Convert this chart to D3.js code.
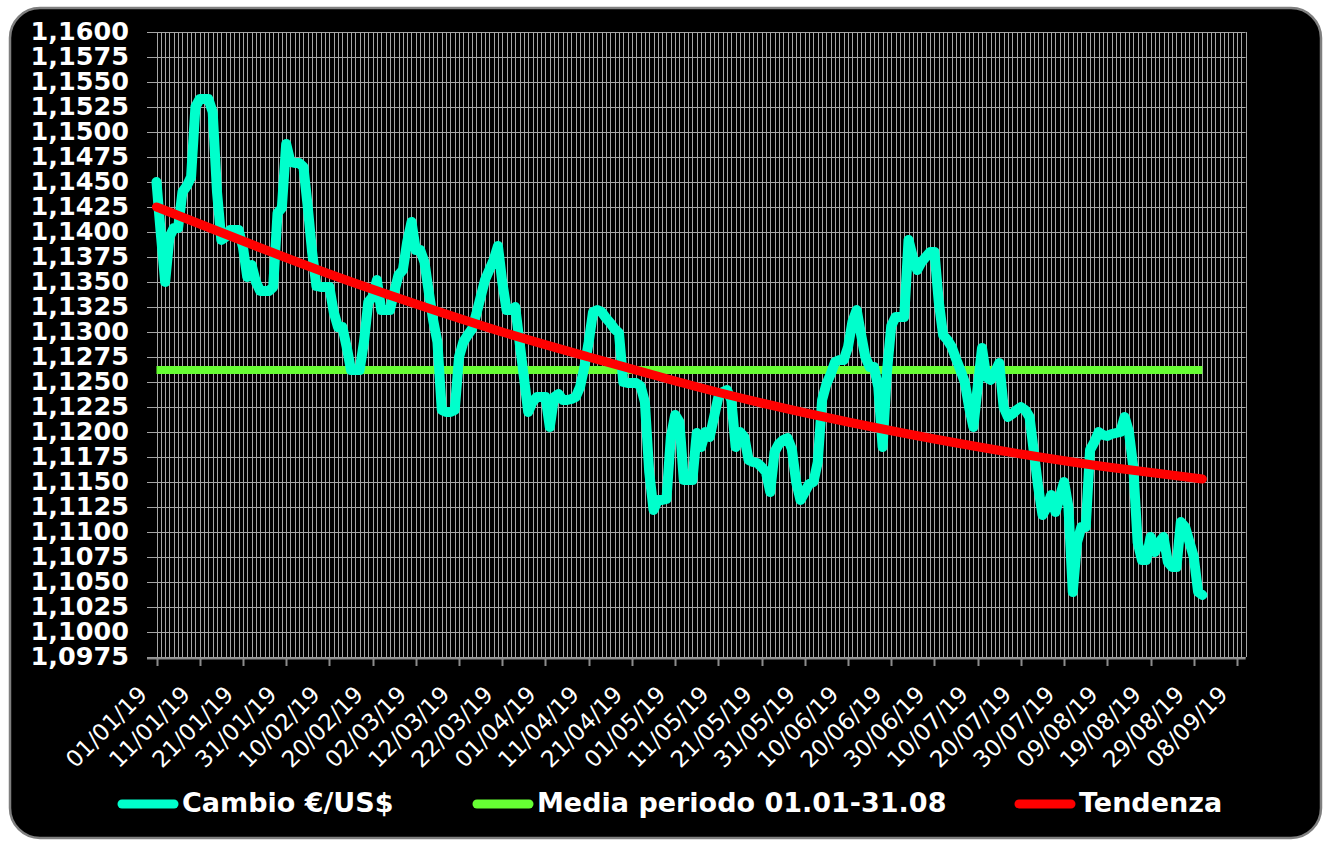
<!DOCTYPE html>
<html>
<head>
<meta charset="utf-8">
<script src="https://cdn.jsdelivr.net/npm/d3@7"></script>
<style>
  body { margin: 0; background: #fff; }
  text { font-family: "DejaVu Sans", Verdana, sans-serif; fill: #fff; }
</style>
</head>
<body>
<div class="chart"></div>
<script>
var w = 1329,
  h = 843;

// first day of the series and end of the date axis
var startDate = new Date(2019, 0, 1),
  axisEnd = new Date(2019, 8, 10);

// daily EUR/USD values, one array per month
var cambioGen = [1.1450, 1.1398, 1.1350, 1.1395, 1.1404, 1.1404, 1.1440, 1.1446, 1.1455, 1.1525, 1.1533, 1.1533, 1.1533, 1.1520, 1.1440, 1.1392, 1.1395, 1.1402, 1.1402, 1.1402, 1.1385, 1.1355, 1.1367, 1.1350, 1.1341, 1.1341, 1.1341, 1.1345, 1.1419, 1.1424, 1.1488];
var cambioFeb = [1.1470, 1.1469, 1.1469, 1.1465, 1.1425, 1.1380, 1.1346, 1.1345, 1.1345, 1.1345, 1.1320, 1.1305, 1.1305, 1.1285, 1.1262, 1.1262, 1.1262, 1.1290, 1.1330, 1.1335, 1.1352, 1.1322, 1.1322, 1.1322, 1.1340, 1.1357, 1.1362, 1.1390];
var cambioMar = [1.1410, 1.1382, 1.1382, 1.1370, 1.1340, 1.1312, 1.1290, 1.1222, 1.1220, 1.1220, 1.1222, 1.1275, 1.1290, 1.1297, 1.1303, 1.1318, 1.1335, 1.1352, 1.1362, 1.1372, 1.1386, 1.1350, 1.1322, 1.1322, 1.1325, 1.1290, 1.1255, 1.1220, 1.1230, 1.1235, 1.1235];
var cambioApr = [1.1235, 1.1205, 1.1235, 1.1238, 1.1232, 1.1232, 1.1233, 1.1235, 1.1245, 1.1265, 1.1290, 1.1320, 1.1322, 1.1320, 1.1314, 1.1309, 1.1303, 1.1299, 1.1250, 1.1249, 1.1249, 1.1249, 1.1246, 1.1230, 1.1160, 1.1122, 1.1132, 1.1132, 1.1133, 1.1195];
var cambioMag = [1.1217, 1.1210, 1.1152, 1.1152, 1.1152, 1.1199, 1.1185, 1.1200, 1.1195, 1.1215, 1.1235, 1.1240, 1.1242, 1.1232, 1.1185, 1.1200, 1.1195, 1.1172, 1.1170, 1.1169, 1.1165, 1.1160, 1.1140, 1.1180, 1.1188, 1.1192, 1.1194, 1.1183, 1.1150, 1.1132, 1.1140];
var cambioGiu = [1.1148, 1.1150, 1.1170, 1.1232, 1.1248, 1.1258, 1.1270, 1.1272, 1.1272, 1.1285, 1.1310, 1.1322, 1.1298, 1.1275, 1.1265, 1.1265, 1.1245, 1.1185, 1.1260, 1.1306, 1.1315, 1.1315, 1.1315, 1.1392, 1.1375, 1.1362, 1.1370, 1.1375, 1.1380, 1.1380];
var cambioLug = [1.1330, 1.1297, 1.1292, 1.1285, 1.1273, 1.1262, 1.1250, 1.1225, 1.1205, 1.1245, 1.1284, 1.1255, 1.1252, 1.1260, 1.1269, 1.1225, 1.1215, 1.1218, 1.1222, 1.1225, 1.1222, 1.1215, 1.1180, 1.1145, 1.1117, 1.1125, 1.1137, 1.1120, 1.1135, 1.1150, 1.1125];
var cambioAgo = [1.1040, 1.1090, 1.1105, 1.1105, 1.1182, 1.1190, 1.1200, 1.1197, 1.1196, 1.1198, 1.1199, 1.1200, 1.1215, 1.1200, 1.1165, 1.1090, 1.1072, 1.1072, 1.1095, 1.1080, 1.1090, 1.1095, 1.1070, 1.1065, 1.1065, 1.1110, 1.1105, 1.1090, 1.1075, 1.1040, 1.1037];

// average of the period (green line)
var mediaPeriodo = 1.1262;

// trend line read at some days of the year (day 0 = 01/01)
var tendenzaGiorni = [0, 20, 40, 60, 80, 100, 120, 140, 160, 180, 200, 220, 242];
var tendenzaValori = [1.1425, 1.1391, 1.1358, 1.1328, 1.1300, 1.1275, 1.1251, 1.1229, 1.1210, 1.1193, 1.1178, 1.1165, 1.1153];

// legend
var serie = ['Cambio €/US$', 'Media periodo 01.01-31.08', 'Tendenza'],
  colori = ['#00ffcc', '#66ff33', '#ff0000'];

var yMin = 1.0975,
  yMax = 1.16,
  yStep = 0.0025;

var cambio = [].concat(cambioGen, cambioFeb, cambioMar, cambioApr, cambioMag, cambioGiu, cambioLug, cambioAgo);
var dati = cambio.map(function (v, i) {
  return { date: d3.timeDay.offset(startDate, i), value: v };
});
var lastDate = dati[dati.length - 1].date;

// italian number format 1,1600
var it = d3.formatLocale({ decimal: ',', thousands: '.', grouping: [3], currency: ['€', ''] });
var fmtY = it.format('.4f'),
  fmtX = d3.timeFormat('%d/%m/%y');

var x = d3.scaleTime()
  .domain([startDate, axisEnd])
  .range([156.5, 156.5 + 4.322 * d3.timeDay.count(startDate, axisEnd)]);

var y = d3.scaleLinear()
  .domain([yMin, yMax])
  .range([657, 32]);

var xLeft = 147,
  xRight = x.range()[1];

var svg = d3.select('.chart')
  .append('svg')
  .attr('width', w)
  .attr('height', h);

// black frame with rounded corners
svg.append('rect')
  .attr('x', 10)
  .attr('y', 8)
  .attr('width', 1311)
  .attr('height', 830)
  .attr('rx', 30)
  .attr('fill', '#000')
  .attr('stroke', '#7f7f7f')
  .attr('stroke-width', 2.5);

var yTicks = d3.range(0, Math.round((yMax - yMin) / yStep) + 1).map(function (i) {
  return yMin + i * yStep;
});

// horizontal gridlines
svg.append('g')
  .selectAll('line')
  .data(yTicks)
  .enter()
  .append('line')
  .attr('x1', xLeft)
  .attr('x2', xRight)
  .attr('y1', function (d) { return Math.round(y(d)) + 0.5; })
  .attr('y2', function (d) { return Math.round(y(d)) + 0.5; })
  .attr('stroke', '#a6a6a6')
  .attr('stroke-width', 1);

// daily vertical gridlines
svg.append('g')
  .selectAll('line')
  .data(d3.timeDay.range(startDate, d3.timeDay.offset(axisEnd, 1)))
  .enter()
  .append('line')
  .attr('x1', function (d) { return Math.round(x(d)) + 0.5; })
  .attr('x2', function (d) { return Math.round(x(d)) + 0.5; })
  .attr('y1', y(yMax))
  .attr('y2', y(yMin))
  .attr('stroke', '#a6a6a6')
  .attr('stroke-width', 1);

// x axis line + ticks every 10 days
var xTicks = d3.timeDay.range(startDate, d3.timeDay.offset(axisEnd, 1), 10);

svg.append('line')
  .attr('x1', xLeft)
  .attr('x2', xRight)
  .attr('y1', 658.5)
  .attr('y2', 658.5)
  .attr('stroke', '#8c8c8c')
  .attr('stroke-width', 2);

svg.append('g')
  .selectAll('line')
  .data(xTicks)
  .enter()
  .append('line')
  .attr('x1', function (d) { return Math.round(x(d)) + 0.5; })
  .attr('x2', function (d) { return Math.round(x(d)) + 0.5; })
  .attr('y1', 658)
  .attr('y2', 666)
  .attr('stroke', '#8c8c8c')
  .attr('stroke-width', 2);

svg.append('g')
  .selectAll('text')
  .data(xTicks)
  .enter()
  .append('text')
  .attr('transform', function (d) {
    return 'translate(' + (x(d) - 8) + ',696) rotate(-45)';
  })
  .attr('text-anchor', 'end')
  .attr('font-size', '23px')
  .text(fmtX);

// y labels
svg.append('g')
  .selectAll('text')
  .data(yTicks)
  .enter()
  .append('text')
  .attr('x', 129)
  .attr('y', function (d) { return y(d) + 8; })
  .attr('text-anchor', 'end')
  .attr('font-size', '25.5px')
  .attr('font-weight', 'bold')
  .text(fmtY);

var line = d3.line()
  .x(function (d) { return x(d.date); })
  .y(function (d) { return y(d.value); });

// average line
svg.append('path')
  .datum([{ date: startDate, value: mediaPeriodo }, { date: lastDate, value: mediaPeriodo }])
  .attr('d', line)
  .attr('fill', 'none')
  .attr('stroke', colori[1])
  .attr('stroke-width', 8);

// exchange rate
svg.append('path')
  .datum(dati)
  .attr('d', line)
  .attr('fill', 'none')
  .attr('stroke', colori[0])
  .attr('stroke-width', 10)
  .attr('stroke-linejoin', 'round')
  .attr('stroke-linecap', 'round');

// trend
var tendenza = tendenzaGiorni.map(function (g, i) {
  return { date: d3.timeDay.offset(startDate, g), value: tendenzaValori[i] };
});

svg.append('path')
  .datum(tendenza)
  .attr('d', line.curve(d3.curveNatural))
  .attr('fill', 'none')
  .attr('stroke', colori[2])
  .attr('stroke-width', 9)
  .attr('stroke-linecap', 'round');

// legend
var legendX = [118, 473, 1015];

var legend = svg.append('g')
  .selectAll('g')
  .data(serie)
  .enter()
  .append('g')
  .attr('transform', function (d, i) { return 'translate(' + legendX[i] + ',804)'; });

legend.append('line')
  .attr('x1', 4)
  .attr('x2', 56)
  .attr('stroke', function (d, i) { return colori[i]; })
  .attr('stroke-width', 9)
  .attr('stroke-linecap', 'round');

legend.append('text')
  .attr('x', 64)
  .attr('y', 8)
  .attr('font-size', '27px')
  .attr('font-weight', 'bold')
  .text(function (d) { return d; });
</script>
</body>
</html>
